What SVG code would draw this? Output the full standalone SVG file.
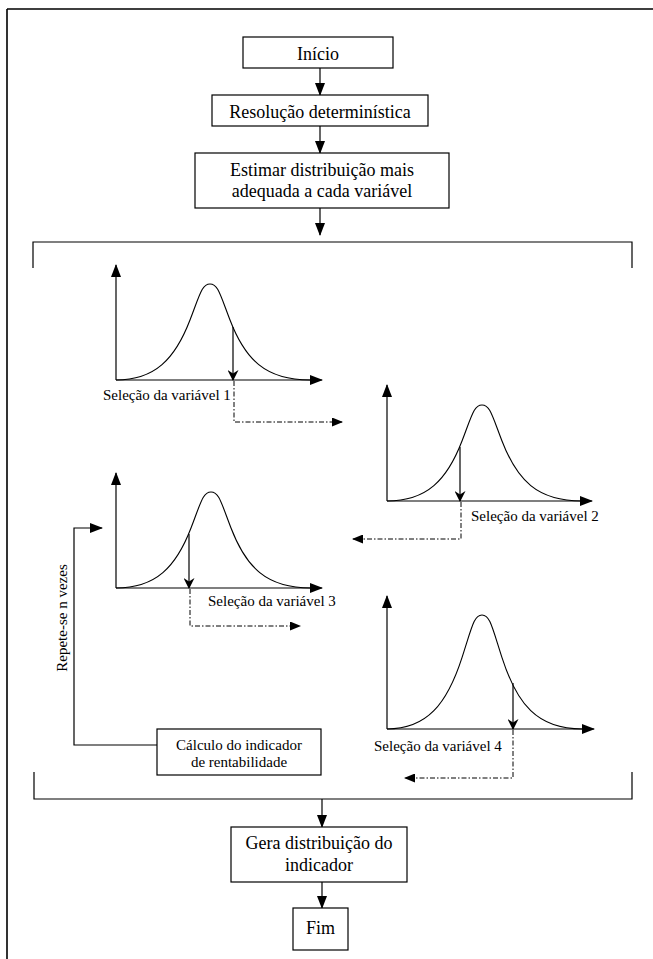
<svg xmlns="http://www.w3.org/2000/svg" width="653" height="959" viewBox="0 0 653 959">
<style>
.box{fill:#fff;stroke:#000;stroke-width:1.2}
.ln{fill:none;stroke:#000;stroke-width:1.2}
.curve{fill:none;stroke:#000;stroke-width:1.1}
.dd{fill:none;stroke:#000;stroke-width:1;stroke-dasharray:5 2 1.5 2}
.t18{font-family:"Liberation Serif","Times New Roman",serif;font-size:18px;fill:#000;text-anchor:middle}
.t15{font-family:"Liberation Serif","Times New Roman",serif;font-size:15px;fill:#000}
</style>
<defs>
<marker id="tri" markerUnits="userSpaceOnUse" markerWidth="13" markerHeight="10" refX="12" refY="5" orient="auto" viewBox="0 0 13 10"><path d="M0,0 L13,5 L0,10 z" fill="#000"/></marker>
<marker id="stl" markerUnits="userSpaceOnUse" markerWidth="11" markerHeight="11" refX="10" refY="5.5" orient="auto" viewBox="0 0 11 11"><path d="M0,0 L11,5.5 L0,11 L3.5,5.5 z" fill="#000"/></marker>
<marker id="trs" markerUnits="userSpaceOnUse" markerWidth="11" markerHeight="9" refX="10" refY="4.5" orient="auto" viewBox="0 0 11 9"><path d="M0,0 L11,4.5 L0,9 z" fill="#000"/></marker>
</defs>
<rect width="653" height="959" fill="#fff"/>
<g id="frame">
<path d="M7,9 H653 M7,9 V959" fill="none" stroke="#000" stroke-width="1.6"/>
</g>
<g id="connectors">
<line class="ln" x1="320" y1="68" x2="320" y2="95" marker-end="url(#tri)"/>
<line class="ln" x1="320" y1="126" x2="320" y2="153" marker-end="url(#tri)"/>
<line class="ln" x1="320" y1="208" x2="320" y2="235" marker-end="url(#tri)"/>
<path class="ln" d="M33,268 V242 H632 V268"/>
<path class="ln" d="M34,772 V799 H632 V772"/>
<line class="ln" x1="322" y1="799" x2="322" y2="827" marker-end="url(#tri)"/>
<line class="ln" x1="322" y1="882" x2="322" y2="908" marker-end="url(#tri)"/>
<path class="ln" d="M157,745 H74 V528 H102" marker-end="url(#tri)"/>
<path class="dd" d="M234,381 V422 H342" marker-end="url(#trs)"/>
<path class="dd" d="M461,502 V539 H353" marker-end="url(#trs)"/>
<path class="dd" d="M190,589 V626 H300" marker-end="url(#trs)"/>
<path class="dd" d="M513,730 V778 H405" marker-end="url(#trs)"/>
</g>
<g id="inicio">
<rect class="box" x="243" y="37" width="150" height="31"/>
<text class="t18" x="318" y="60">Início</text>
</g>
<g id="resolucao">
<rect class="box" x="212" y="95" width="216" height="31"/>
<text class="t18" x="320" y="118">Resolução determinística</text>
</g>
<g id="estimar">
<rect class="box" x="195" y="153" width="254" height="55"/>
<text class="t18" x="322" y="176">Estimar distribuição mais</text>
<text class="t18" x="322" y="197">adequada a cada variável</text>
</g>
<g id="chart1" transform="translate(116,380)">
<line class="ln" x1="0" y1="0" x2="0" y2="-115" marker-end="url(#tri)"/>
<line class="ln" x1="0" y1="0" x2="206" y2="0" marker-end="url(#tri)"/>
<path class="curve" d="M0,0 C39,0 59,-21 74,-60 C84,-86 86,-96 94,-96 C102,-96 104,-86 114,-60 C129,-21 149,0 194,0"/>
<line class="ln" x1="117" y1="-53" x2="117" y2="0" marker-end="url(#stl)"/>
<text class="t15" x="-13" y="20">Seleção da variável 1</text>
</g>
<g id="chart2" transform="translate(387,501)">
<line class="ln" x1="0" y1="0" x2="0" y2="-116" marker-end="url(#tri)"/>
<line class="ln" x1="0" y1="0" x2="205" y2="0" marker-end="url(#tri)"/>
<path class="curve" d="M0,0 C40,0 60,-21 75,-60 C85,-86 87,-96 95,-96 C103,-96 105,-86 115,-60 C130,-21 150,0 195,0"/>
<line class="ln" x1="73" y1="-54" x2="73" y2="0" marker-end="url(#stl)"/>
<text class="t15" x="84" y="20">Seleção da variável 2</text>
</g>
<g id="chart3" transform="translate(116,588)">
<line class="ln" x1="0" y1="0" x2="0" y2="-115" marker-end="url(#tri)"/>
<line class="ln" x1="0" y1="0" x2="206" y2="0" marker-end="url(#tri)"/>
<path class="curve" d="M0,0 C40,0 60,-21 75,-60 C85,-86 87,-96 95,-96 C103,-96 105,-86 115,-60 C130,-21 150,0 195,0"/>
<line class="ln" x1="73" y1="-54" x2="73" y2="0" marker-end="url(#stl)"/>
<text class="t15" x="92" y="18">Seleção da variável 3</text>
</g>
<g id="chart4" transform="translate(387,729)">
<line class="ln" x1="0" y1="0" x2="0" y2="-133" marker-end="url(#tri)"/>
<line class="ln" x1="0" y1="0" x2="207" y2="0" marker-end="url(#tri)"/>
<path class="curve" d="M0,0 C40,0 60,-25 75,-71.4 C85,-102.3 87,-114 95,-114 C103,-114 105,-102.3 115,-71.4 C130,-25 150,0 195,0"/>
<line class="ln" x1="126" y1="-46" x2="126" y2="0" marker-end="url(#stl)"/>
<text class="t15" x="-13" y="22">Seleção da variável 4</text>
</g>
<g id="repete">
<text class="t15" transform="translate(67,618) rotate(-90)" text-anchor="middle">Repete-se n vezes</text>
</g>
<g id="calculo">
<rect class="box" x="157" y="729" width="164" height="46"/>
<text class="t15" x="239" y="750" text-anchor="middle">Cálculo do indicador</text>
<text class="t15" x="239" y="767" text-anchor="middle">de rentabilidade</text>
</g>
<g id="gera">
<rect class="box" x="231" y="827" width="176" height="55"/>
<text class="t18" x="319" y="849">Gera distribuição do</text>
<text class="t18" x="319" y="871">indicador</text>
</g>
<g id="fim">
<rect class="box" x="293" y="908" width="55" height="42"/>
<text class="t18" x="320.5" y="934">Fim</text>
</g>
</svg>
